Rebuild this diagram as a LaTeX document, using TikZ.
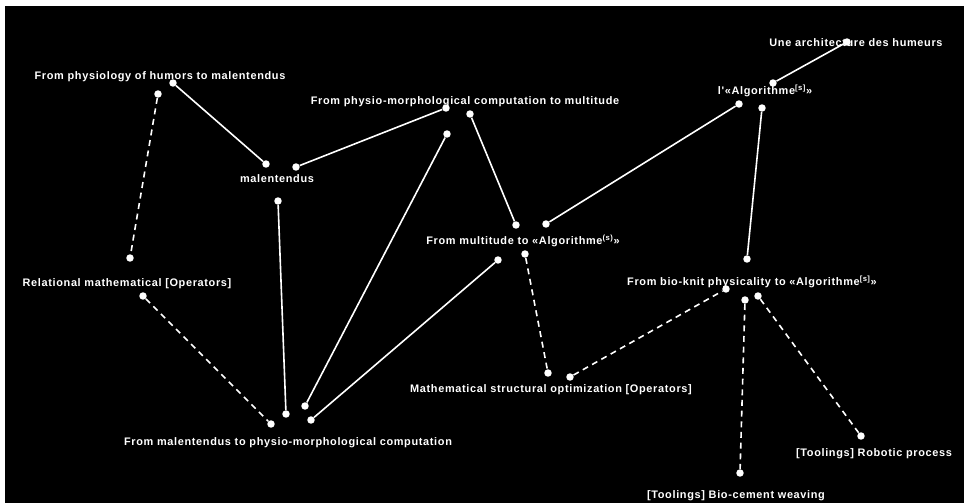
\documentclass[tikz,border=0pt]{standalone}
\usepackage{fontspec}
\usepackage{tikz}
\newfontfamily\lblfont[LetterSpace=6]{Liberation Sans}
\newcommand{\alg}[1]{«Algorithme\textsuperscript{#1}»}

\begin{document}
\begin{tikzpicture}[
    x=0.75pt, y=-0.75pt,
    lbl/.style={text=white, inner sep=0, font=\lblfont\bfseries\fontsize{8.2}{10}\selectfont},
    dot/.style={circle, fill=white, inner sep=0, minimum size=5.6pt},
    link/.style={draw=white, line width=1.2pt},
    dlink/.style={link, dash pattern=on 4.5pt off 3.5pt}
]
\useasboundingbox (0,0) rectangle (964,503);
\fill[white] (0,0) rectangle (964,503);
\fill[black] (5,6) rectangle (964,503);

% labels
\node[lbl] (hum) at (160,77) {From physiology of humors to malentendus};
\node[lbl] (mal) at (277,179) {malentendus};
\node[lbl] (pmc) at (465,102) {From physio-morphological computation to multitude};
\node[lbl] (arch) at (856,43) {Une architecture des humeurs};
\node[lbl] (algo) at (765,91) {l'\alg{[s]}};
\node[lbl] (mul) at (523,241) {From multitude to \alg{(s)}};
\node[lbl] (rel) at (127,284) {Relational mathematical [Operators]};
\node[lbl] (bio) at (752,282) {From bio-knit physicality to \alg{[s]}};
\node[lbl] (opt) at (551,390) {Mathematical structural optimization [Operators]};
\node[lbl] (m2p) at (288,443) {From malentendus to physio-morphological computation};
\node[lbl] (rob) at (874,454) {[Toolings] Robotic process};
\node[lbl] (cem) at (736,496) {[Toolings] Bio-cement weaving};

% end points
\node[dot] (hum1) at (173,83) {};
\node[dot] (hum2) at (158,94) {};
\node[dot] (mal1) at (266,164) {};
\node[dot] (mal2) at (296,167) {};
\node[dot] (mal3) at (278,201) {};
\node[dot] (pmc1) at (446,108) {};
\node[dot] (pmc2) at (470,114) {};
\node[dot] (pmc3) at (447,134) {};
\node[dot] (arch1) at (847,42) {};
\node[dot] (algo1) at (773,83) {};
\node[dot] (algo2) at (739,104) {};
\node[dot] (algo3) at (762,108) {};
\node[dot] (mul1) at (516,225) {};
\node[dot] (mul2) at (546,224) {};
\node[dot] (mul3) at (498,260) {};
\node[dot] (mul4) at (525,254) {};
\node[dot] (rel1) at (130,258) {};
\node[dot] (rel2) at (143,296) {};
\node[dot] (bio1) at (747,259) {};
\node[dot] (bio2) at (726,289) {};
\node[dot] (bio3) at (745,300) {};
\node[dot] (bio4) at (758,296) {};
\node[dot] (opt1) at (548,373) {};
\node[dot] (opt2) at (570,377) {};
\node[dot] (m2p1) at (271,424) {};
\node[dot] (m2p2) at (286,414) {};
\node[dot] (m2p3) at (305,406) {};
\node[dot] (m2p4) at (311,420) {};
\node[dot] (rob1) at (861,436) {};
\node[dot] (cem1) at (740,473) {};

% solid links
\draw[link] (hum1) -- (mal1);
\draw[link] (mal2) -- (pmc1);
\draw[link] (mal3) -- (m2p2);
\draw[link] (pmc3) -- (m2p3);
\draw[link] (pmc2) -- (mul1);
\draw[link] (mul3) -- (m2p4);
\draw[link] (mul2) -- (algo2);
\draw[link] (algo1) -- (arch1);
\draw[link] (algo3) -- (bio1);

% dashed links
\draw[dlink] (hum2) -- (rel1);
\draw[dlink] (rel2) -- (m2p1);
\draw[dlink] (mul4) -- (opt1);
\draw[dlink] (opt2) -- (bio2);
\draw[dlink] (bio3) -- (cem1);
\draw[dlink] (bio4) -- (rob1);
\end{tikzpicture}
\end{document}
